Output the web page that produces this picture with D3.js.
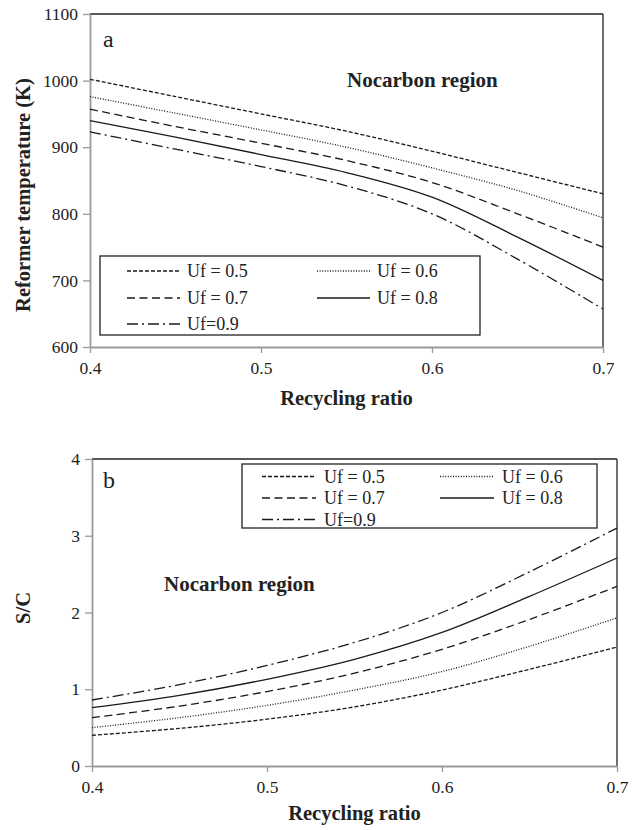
<!DOCTYPE html>
<html>
<head>
<meta charset="utf-8">
<script src="https://cdn.jsdelivr.net/npm/d3@7/dist/d3.min.js"></script>
<style>
  html, body { margin: 0; padding: 0; background: #fff; }
  svg { display: block; }
  svg text { font-family: "Liberation Serif", "DejaVu Serif", serif !important; fill: #222; }
</style>
</head>
<body>
<svg id="chart" width="632" height="830"></svg>
<script>
// ---------- data ----------
const ratios = [0.40, 0.45, 0.50, 0.55, 0.60, 0.65, 0.70];
const seriesLabels = ["Uf = 0.5", "Uf = 0.6", "Uf = 0.7", "Uf = 0.8", "Uf=0.9"];

// panel a: reformer temperature (K)
const tempUf05 = [1002, 976, 950, 924, 894, 862, 830];
const tempUf06 = [976, 951, 926, 900, 869, 835, 794];
const tempUf07 = [957, 931, 906, 880, 847, 800, 750];
const tempUf08 = [940, 915, 889, 862, 825, 765, 700];
const tempUf09 = [923, 897, 871, 842, 800, 732, 657];

// panel b: S/C
const scUf05 = [0.40, 0.49, 0.61, 0.77, 0.99, 1.26, 1.55];
const scUf06 = [0.50, 0.63, 0.79, 0.99, 1.23, 1.56, 1.93];
const scUf07 = [0.63, 0.78, 0.97, 1.21, 1.52, 1.91, 2.34];
const scUf08 = [0.76, 0.92, 1.13, 1.39, 1.74, 2.21, 2.71];
const scUf09 = [0.86, 1.06, 1.31, 1.61, 2.00, 2.53, 3.10];

const ratioTicks = [0.4, 0.5, 0.6, 0.7];
const tempTicks = [600, 700, 800, 900, 1000, 1100];
const scTicks = [0, 1, 2, 3, 4];

// ---------- styles ----------
const FONT = "Liberation Serif";
const dashes = ["4,2", "1,1.6", "8,4.5", null, "11,4,2,4"];
const svg = d3.select("#chart");
const AXIS_GRAY = "#9a9a9a";

function panel(cfg) {
  const x = d3.scaleLinear().domain([0.4, 0.7]).range([cfg.left, cfg.right]);
  const y = d3.scaleLinear().domain(cfg.yDomain).range([cfg.bottom, cfg.top]);
  const g = svg.append("g");

  // top / right frame
  g.append("line").attr("x1", cfg.left).attr("x2", cfg.right).attr("y1", cfg.top).attr("y2", cfg.top)
    .attr("stroke", "#222").attr("stroke-width", 1.3);
  g.append("line").attr("x1", cfg.right).attr("x2", cfg.right).attr("y1", cfg.top).attr("y2", cfg.bottom)
    .attr("stroke", "#222").attr("stroke-width", 1.3);

  // axes
  const xa = g.append("g").attr("transform", `translate(0,${cfg.bottom})`)
    .call(d3.axisBottom(x).tickValues(ratioTicks).tickFormat(d3.format(".1f")).tickSize(6).tickSizeOuter(0).tickPadding(9));
  const ya = g.append("g").attr("transform", `translate(${cfg.left},0)`)
    .call(d3.axisLeft(y).tickValues(cfg.yTicks).tickFormat(d3.format("d")).tickSize(7).tickSizeOuter(0).tickPadding(5));
  [xa, ya].forEach(a => {
    a.attr("font-family", FONT);
    a.select(".domain").attr("stroke", AXIS_GRAY).attr("stroke-width", 1.8);
    a.selectAll(".tick line").attr("stroke", AXIS_GRAY).attr("stroke-width", 1.3);
    a.selectAll(".tick text").attr("font-family", FONT).attr("font-size", 17.5).attr("fill", "#222");
  });

  // lines
  const line = d3.line().x((d, i) => x(ratios[i])).y(d => y(d)).curve(d3.curveCatmullRom.alpha(0.5));
  cfg.series.forEach((s, k) => {
    g.append("path").attr("d", line(s)).attr("fill", "none").attr("stroke", "#1a1a1a")
      .attr("stroke-width", 1.3).attr("stroke-dasharray", dashes[k]);
  });

  // panel letter
  g.append("text").attr("font-family", FONT).attr("x", cfg.letterX).attr("y", cfg.letterY).attr("font-size", 24).text(cfg.letter);
  // region label
  g.append("text").attr("font-family", FONT).attr("x", cfg.regionX).attr("y", cfg.regionY).attr("font-size", 21)
    .attr("font-weight", "bold").text("Nocarbon region");

  // axis titles
  g.append("text").attr("font-family", FONT).attr("x", (cfg.left + cfg.right) / 2).attr("y", cfg.xTitleY).attr("text-anchor", "middle")
    .attr("font-size", 20.5).attr("font-weight", "bold").text("Recycling ratio");
  g.append("text").attr("font-family", FONT).attr("transform", `translate(30,${cfg.yTitleY}) rotate(-90)`).attr("text-anchor", "middle")
    .attr("font-size", 20.5).attr("font-weight", "bold").text(cfg.yTitle);

  // legend
  const L = cfg.legend;
  g.append("rect").attr("x", L.x).attr("y", L.y).attr("width", L.w).attr("height", L.h)
    .attr("fill", "#fff").attr("stroke", "#222").attr("stroke-width", 1.3);
  seriesLabels.forEach((lab, k) => {
    const col = k % 2, row = Math.floor(k / 2);
    const lx = L.cols[col];
    const ly = L.rows[row];
    g.append("line").attr("x1", lx).attr("x2", lx + L.lineW).attr("y1", ly).attr("y2", ly)
      .attr("stroke", "#1a1a1a").attr("stroke-width", 1.3).attr("stroke-dasharray", dashes[k]);
    g.append("text").attr("font-family", FONT).attr("x", lx + L.textOff).attr("y", ly + 6).attr("font-size", 18).text(lab);
  });
}

panel({
  left: 90, right: 603, top: 14, bottom: 347,
  yDomain: [600, 1100], yTicks: tempTicks,
  series: [tempUf05, tempUf06, tempUf07, tempUf08, tempUf09],
  letter: "a", letterX: 103, letterY: 47,
  regionX: 347, regionY: 87,
  xTitleY: 405, yTitleY: 195, yTitle: "Reformer temperature (K)",
  legend: { x: 100, y: 256, w: 380, h: 79, cols: [127, 317], rows: [271, 298, 324], lineW: 53, textOff: 60 }
});

panel({
  left: 92, right: 617, top: 459, bottom: 766,
  yDomain: [0, 4], yTicks: scTicks,
  series: [scUf05, scUf06, scUf07, scUf08, scUf09],
  letter: "b", letterX: 103, letterY: 488,
  regionX: 164, regionY: 591,
  xTitleY: 820, yTitleY: 608, yTitle: "S/C",
  legend: { x: 242, y: 464, w: 355, h: 64, cols: [262, 440], rows: [476.5, 498, 519.5], lineW: 54, textOff: 62 }
});
</script>
</body>
</html>
